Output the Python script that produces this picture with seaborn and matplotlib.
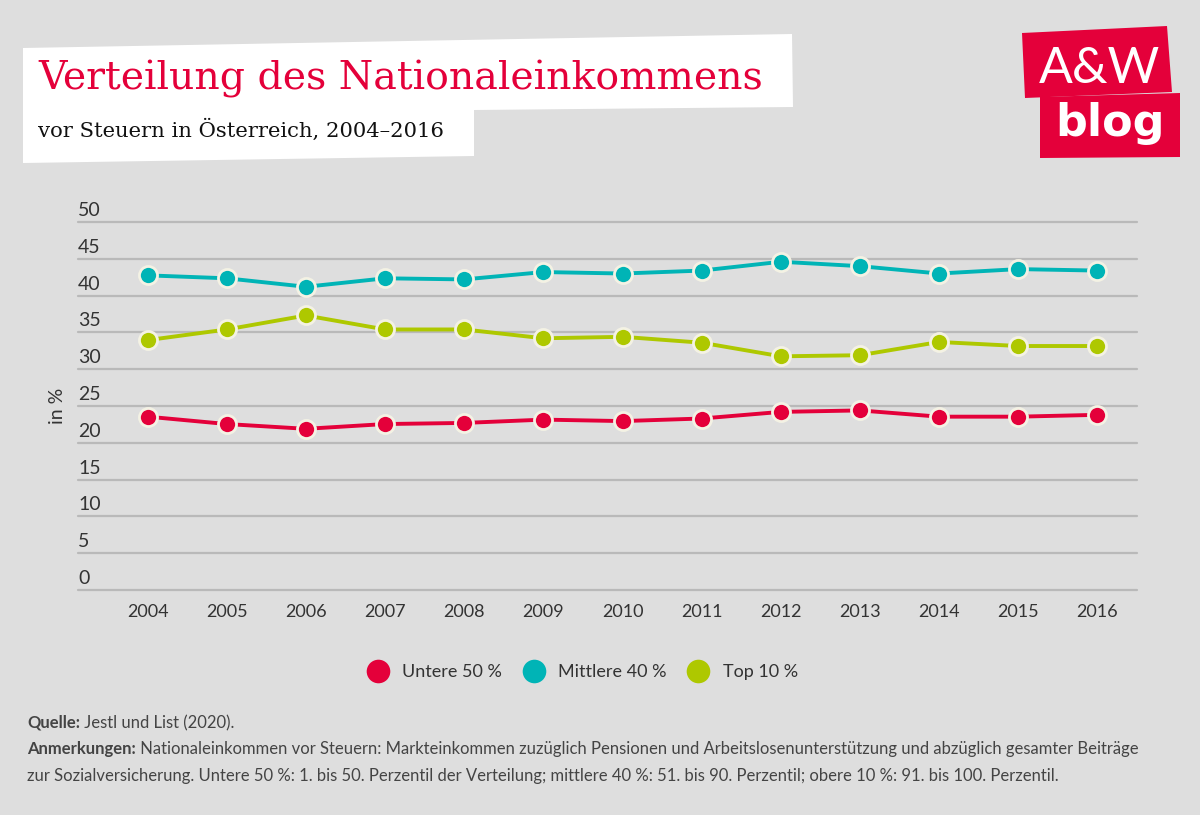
import matplotlib
matplotlib.use("Agg")
import matplotlib.pyplot as plt
from matplotlib.patches import Polygon
from matplotlib.lines import Line2D
from matplotlib.transforms import ScaledTranslation
import pandas as pd
import seaborn as sns

# Daten (Anteile am Nationaleinkommen vor Steuern, in %)
jahre = list(range(2004, 2017))
untere_50 = [23.55, 22.55, 21.9, 22.55, 22.7, 23.15, 22.95, 23.3, 24.2, 24.4, 23.55, 23.55, 23.8]
mittlere_40 = [42.75, 42.35, 41.2, 42.35, 42.2, 43.2, 43.0, 43.4, 44.6, 44.0, 43.0, 43.6, 43.4]
top_10 = [33.95, 35.4, 37.3, 35.4, 35.4, 34.2, 34.4, 33.6, 31.75, 31.9, 33.7, 33.15, 33.15]
gruppen = ["Untere 50 %", "Mittlere 40 %", "Top 10 %"]
farben = ["#E4003A", "#00B4B6", "#AEC800"]
y_ticks = list(range(0, 55, 5))

titel = "Verteilung des Nationaleinkommens"
untertitel = "vor Steuern in Österreich, 2004–2016"

df = pd.DataFrame({
    "Jahr": jahre * 3,
    "Wert": untere_50 + mittlere_40 + top_10,
    "Gruppe": [g for g in gruppen for _ in jahre],
})

# %%
bg = "#DEDEDE"
sns.set_theme(style="white")
plt.rcParams["font.family"] = ["Lato", "DejaVu Sans"]

W, H = 1200, 815
fig = plt.figure(figsize=(W / 100, H / 100), dpi=100, facecolor=bg)


def px(x, y):
    # pixel position -> figure fraction
    return (x / W, 1 - y / H)


ax = fig.add_axes([78 / W, 1 - 590 / H, (1137 - 78) / W, (590 - 222) / H])
ax.set_facecolor(bg)

sns.lineplot(data=df, x="Jahr", y="Wert", hue="Gruppe", hue_order=gruppen,
             palette=farben, marker="o", markersize=13,
             markeredgecolor="#F4F2E4", markeredgewidth=2,
             linewidth=2.8, legend=False, ax=ax)

ax.set_xlim(2003.12, 2016.5)
ax.set_ylim(0, 50)
ax.set_yticks(y_ticks)
ax.set_xticks(jahre)
ax.set_xlabel("")
ax.set_ylabel("in %", fontsize=14, color="#333333")
ax.yaxis.set_label_coords(-0.011, 0.5)

ax.yaxis.grid(True, color="#B9B9B9", linewidth=1.6)
ax.xaxis.grid(False)
ax.set_axisbelow(True)
for gl in ax.get_ygridlines():
    gl.set_clip_on(False)
sns.despine(ax=ax, left=True, bottom=True)

ax.tick_params(axis="y", length=0, pad=0, labelsize=14, labelcolor="#333333")
ax.tick_params(axis="x", length=0, pad=10, labelsize=13, labelcolor="#333333")
shift = ScaledTranslation(0, 0.06, fig.dpi_scale_trans)
for lbl in ax.get_yticklabels():
    lbl.set_horizontalalignment("left")
    lbl.set_verticalalignment("baseline")
    lbl.set_transform(lbl.get_transform() + shift)

# Legende
handles = [Line2D([0], [0], marker="o", linestyle="", markersize=17,
                  color=f, markeredgewidth=0) for f in farben]
fig.legend(handles, gruppen, loc="center", bbox_to_anchor=px(582, 672),
           ncol=3, frameon=False, fontsize=13, labelcolor="#333333",
           handlelength=1.3, handletextpad=0.7, columnspacing=1.1)

# Titelbanner
fig.patches.append(Polygon(
    [px(23, 48), px(792, 34), px(793, 107), px(474, 110), px(474, 156), px(23, 163)],
    closed=True, transform=fig.transFigure, facecolor="white", edgecolor="none"))
fig.text(*px(38, 90), titel, family="DejaVu Serif", fontsize=28.4,
         color="#E4003A", va="baseline")
fig.text(*px(38, 137), untertitel, family="DejaVu Serif", fontsize=15.2,
         color="#111111", va="baseline")

# Logo
logo_rot = "#E4003A"
fig.patches.append(Polygon(
    [px(1022, 33), px(1167, 26), px(1172, 92), px(1025, 98)],
    closed=True, transform=fig.transFigure, facecolor=logo_rot, edgecolor="none"))
fig.patches.append(Polygon(
    [px(1040, 97), px(1180, 93), px(1180, 157), px(1040, 158)],
    closed=True, transform=fig.transFigure, facecolor=logo_rot, edgecolor="none"))
fig.text(*px(1099, 83), "A&W", fontsize=36, color="white", ha="center",
         va="baseline")
fig.text(*px(1110, 136), "blog", family="DejaVu Sans", fontsize=32,
         weight="bold", color="white", ha="center", va="baseline")

# Fussnoten
fs = 12
fc = "#444444"
t1 = fig.text(*px(27, 723), "Quelle:", fontsize=fs, weight="bold", color=fc,
              va="center")
ax.annotate(" Jestl und List (2020).", xy=(1, 0.5), xycoords=t1, fontsize=fs,
            color=fc, va="center")
t2 = fig.text(*px(27, 749), "Anmerkungen:", fontsize=fs, weight="bold",
              color=fc, va="center")
ax.annotate(" Nationaleinkommen vor Steuern: Markteinkommen zuzüglich Pensionen "
            "und Arbeitslosenunterstützung und abzüglich gesamter Beiträge",
            xy=(1, 0.5), xycoords=t2, fontsize=fs, color=fc, va="center")
fig.text(*px(27, 776), "zur Sozialversicherung. Untere 50 %: 1. bis 50. Perzentil "
         "der Verteilung; mittlere 40 %: 51. bis 90. Perzentil; obere 10 %: "
         "91. bis 100. Perzentil.", fontsize=fs, color=fc, va="center")

fig.savefig("out.png", dpi=100, facecolor=bg)
